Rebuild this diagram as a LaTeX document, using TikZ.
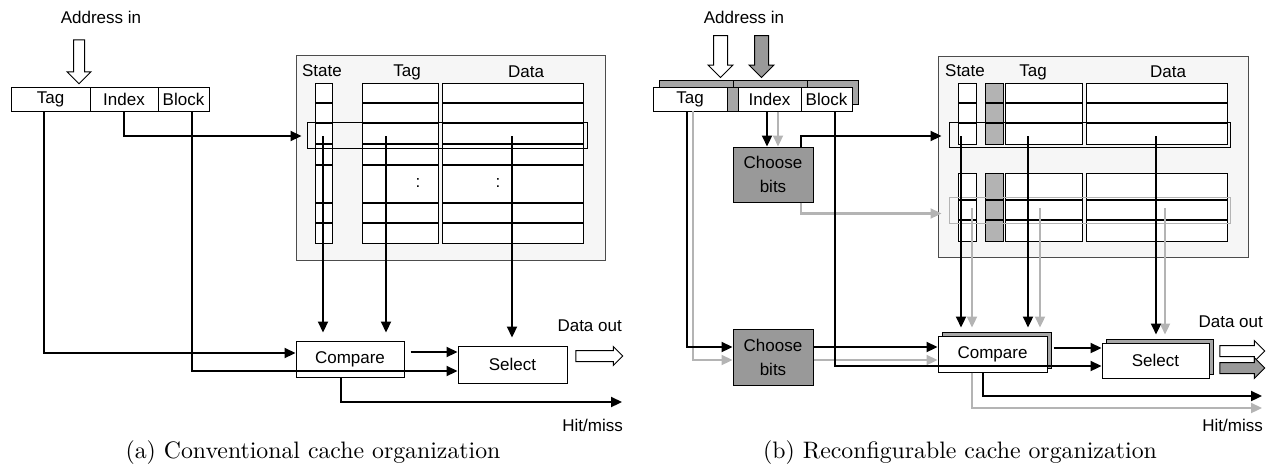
\documentclass[tikz,border=0pt]{standalone}
\usepackage{fontspec}
\newfontfamily\arialfont{Liberation Sans}
\newfontfamily\capfont{lmroman10-regular}[Extension=.otf]
\usetikzlibrary{arrows.meta,shapes.arrows}

\definecolor{arrayfill}{HTML}{F6F6F6}
\definecolor{choosefill}{HTML}{999999}
\definecolor{waygray}{HTML}{B4B4B4}
\definecolor{shadowgray}{HTML}{A6A6A6}

\begin{document}
\begin{tikzpicture}
      [x=1pt,y=-1pt,>={Triangle[length=11pt,width=10pt]},
       lbl/.style={font=\arialfont\fontsize{17}{19}\selectfont,inner sep=0pt},
       field/.style={rectangle,draw,line width=1pt,fill=white,inner sep=0pt,minimum height=24pt,lbl},
       unit/.style={rectangle,draw,line width=1pt,fill=white,inner sep=0pt,lbl},
       chooser/.style={rectangle,draw,line width=1pt,fill=choosefill,inner sep=0pt,
         minimum width=80pt,align=center,font=\arialfont\fontsize{17}{24}\selectfont},
       arraybox/.style={rectangle,draw=black!70,line width=1pt,fill=arrayfill,inner sep=0pt},
       column/.style={rectangle,draw,line width=1pt,fill=white,inner sep=0pt},
       rowsel/.style={rectangle,draw,line width=1pt,inner sep=0pt},
       fatarrow/.style={single arrow,draw,line width=1pt,inner xsep=0pt},
       caption/.style={font=\capfont\fontsize{23.8}{28}\selectfont},
       sig/.style={->,line width=2.2pt},
       waysig/.style={->,line width=2.2pt,draw=waygray},
       gap/.style={shorten >=8pt}]
      \useasboundingbox (0,0) rectangle (1276,466);

      % (a) conventional
      \node[lbl] (addrA) at (101,17) {Address in};
      \node[fatarrow,fill=white,rotate=-90,minimum height=44pt,inner ysep=5pt,
        single arrow head extend=6.5pt] (inA) at (79,59) {};
      \node[field,minimum width=79pt] (tagA) at (50.5,99) {Tag};
      \node[field,minimum width=68pt] (indexA) at (124,99) {Index};
      \node[field,minimum width=51pt] (blockA) at (183.5,99) {Block};

      \node[arraybox,minimum width=309pt,minimum height=205pt] (cacheA) at (450.5,157.5) {};
      \node[lbl] (stateLblA) at (322,71) {State};
      \node[lbl] (tagLblA) at (407,72) {Tag};
      \node[lbl] (dataLblA) at (526,72) {Data};
      \node[column,minimum width=17pt,minimum height=160pt] (stateA) at (323.5,163) {};
      \node[column,minimum width=76pt,minimum height=160pt] (tagsA) at (400,163) {};
      \node[column,minimum width=141pt,minimum height=160pt] (dataA) at (512.5,163) {};
      \foreach \y in {103,123,144,165,203,223}
        \draw[line width=1.5pt] (315,\y) -- (332,\y) (362,\y) -- (438,\y) (442,\y) -- (583,\y);
      \node[lbl] (dotsTagA) at (418,183) {:};
      \node[lbl] (dotsDataA) at (498,183) {:};
      \node[rowsel,minimum width=280pt,minimum height=26pt] (hitrowA) at (447,135) {};

      \node[unit,minimum width=108pt,minimum height=36pt] (compareA) at (350,359) {Compare};
      \node[unit,minimum width=109pt,minimum height=37pt] (selectA) at (512.5,364.5) {Select};

      \coordinate (stTapA) at (323,136);
      \coordinate (tgTapA) at (386,136);
      \coordinate (dtTapA) at (512,136);
      \coordinate (hitEndA) at (622,402);
      \draw[sig] ([xshift=-6.5pt]tagA.south) |- ([yshift=6pt]compareA.west);
      \draw[sig] ([xshift=8.5pt]blockA.south) |- ([yshift=-6.5pt]selectA.west);
      \draw[sig] (indexA.south) |- ([xshift=6pt]cacheA.west |- stTapA);
      \draw[sig,gap] (stTapA) -- (stTapA |- compareA.north);
      \draw[sig,gap] (tgTapA) -- (tgTapA |- compareA.north);
      \draw[sig,gap] (dtTapA) -- (dtTapA |- selectA.north);
      \draw[sig] ([xshift=6pt,yshift=7pt]compareA.east) -- ([yshift=7pt]compareA.east -| selectA.west);
      \draw[sig] ([xshift=-9pt]compareA.south) |- (hitEndA);
      \node[lbl,anchor=east] (dataOutA) at (622,326) {Data out};
      \node[lbl,anchor=east] (hitA) at (623,425) {Hit/miss};
      \node[fatarrow,fill=white,minimum height=47pt,inner ysep=5pt,
        single arrow head extend=4pt] (outA) at (596.5,356) {};
      \node[caption] (capA) at (313,453) {(a) Conventional cache organization};

      % (b) reconfigurable
      \node[lbl] (addrB) at (744,17) {Address in};
      \node[fatarrow,fill=white,rotate=-90,minimum height=42pt,inner ysep=6.5pt,
        single arrow head extend=5.5pt] (inB) at (720.5,53) {};
      \node[fatarrow,fill=choosefill,rotate=-90,minimum height=42pt,inner ysep=6.5pt,
        single arrow head extend=5.5pt] (inWayB) at (761.5,53) {};
      \node[field,fill=shadowgray,minimum width=74pt] (tagShB) at (696,92) {};
      \node[field,fill=shadowgray,minimum width=74pt] (indexShB) at (770,92) {};
      \node[field,fill=shadowgray,minimum width=51pt] (blockShB) at (832.5,92) {};
      \node[field,minimum width=74pt] (tagB) at (690,99) {Tag};
      \node[field,fill=shadowgray,minimum width=11pt] (bitB) at (732.5,99) {};
      \node[field,minimum width=63pt] (indexB) at (769.5,99) {Index};
      \node[field,minimum width=51pt] (blockB) at (826.5,99) {Block};

      \node[chooser,minimum height=55pt] (chooseIdxB) at (773,174.5) {Choose\\bits};
      \node[chooser,minimum height=56pt] (chooseTagB) at (773,357) {Choose\\bits};

      \node[arraybox,minimum width=310pt,minimum height=201pt] (cacheB) at (1093,156.5) {};
      \node[lbl] (stateLblB) at (965,71) {State};
      \node[lbl] (tagLblB) at (1033,72) {Tag};
      \node[lbl] (dataLblB) at (1168,72) {Data};
      \foreach \yc/\h in {113.5/61,207/68} {
        \node[column,minimum width=18pt,minimum height=\h pt] at (967,\yc) {};
        \node[column,fill=shadowgray!85,minimum width=18pt,minimum height=\h pt] at (994,\yc) {};
        \node[column,minimum width=77pt,minimum height=\h pt] at (1043.5,\yc) {};
        \node[column,minimum width=141pt,minimum height=\h pt] at (1156.5,\yc) {};
      }
      \foreach \y in {103,123,200,220}
        \draw[line width=1.5pt] (958,\y) -- (976,\y) (985,\y) -- (1003,\y)
          (1005,\y) -- (1082,\y) (1086,\y) -- (1227,\y);
      \node[rowsel,minimum width=281pt,minimum height=25pt] (hitrowB) at (1089.5,134.5) {};
      \node[rowsel,draw=waygray,minimum width=281pt,minimum height=26pt] (wayrowB) at (1089.5,210) {};

      \node[unit,fill=shadowgray,minimum width=109pt,minimum height=36pt] (compareShB) at (996.5,350) {};
      \node[unit,minimum width=109pt,minimum height=36pt] (compareB) at (992.5,354) {Compare};
      \node[unit,fill=shadowgray,minimum width=107pt,minimum height=35pt] (selectShB) at (1159.5,356.5) {};
      \node[unit,minimum width=107pt,minimum height=35pt] (selectB) at (1155.5,360.5) {Select};

      \coordinate (idxTapB) at ([xshift=-2.5pt]indexB.south);
      \coordinate (idxWayTapB) at ([xshift=8.5pt]indexB.south);
      \coordinate (tagTapB) at (687,111);
      \coordinate (tagWayTapB) at (693,111);
      \coordinate (setTapB) at ([xshift=28pt]chooseIdxB.north);
      \coordinate (setWayTapB) at ([xshift=28pt]chooseIdxB.south);
      \coordinate (stTapB) at (961,136);
      \coordinate (tgTapB) at (1028,136);
      \coordinate (dtTapB) at (1156,136);
      \coordinate (stWayTapB) at (972,208);
      \coordinate (tgWayTapB) at (1040,208);
      \coordinate (dtWayTapB) at (1165,208);
      \coordinate (hitEndB) at (1262,396);
      \coordinate (hitWayEndB) at (1262,408);

      \draw[waysig] (idxWayTapB) -- (idxWayTapB |- chooseIdxB.north);
      \draw[sig] (idxTapB) -- (idxTapB |- chooseIdxB.north);
      \draw[sig] (setTapB) |- ([xshift=4pt]cacheB.west |- stTapB);
      \draw[waysig] (setWayTapB) |- ([xshift=4pt,yshift=-3.5pt]cacheB.west |- wayrowB);
      \draw[waysig] (tagWayTapB) |- ([yshift=-3pt]chooseTagB.west);
      \draw[sig] (tagTapB) |- ([yshift=10pt]chooseTagB.west);
      \draw[waysig] ([yshift=-3pt]chooseTagB.east) -- ([yshift=-3pt]chooseTagB.east -| compareB.west);
      \draw[sig] ([yshift=10pt]chooseTagB.east) -- ([yshift=10pt]chooseTagB.east -| compareB.west);
      \draw[sig] ([xshift=8.5pt]blockB.south) |- ([yshift=-5.5pt]selectB.west);
      \draw[waysig,gap] (stWayTapB) -- (stWayTapB |- compareB.north);
      \draw[waysig,gap] (tgWayTapB) -- (tgWayTapB |- compareB.north);
      \draw[waysig,gap] (dtWayTapB) -- (dtWayTapB |- selectB.north);
      \draw[sig,gap] (stTapB) -- (stTapB |- compareB.north);
      \draw[sig,gap] (tgTapB) -- (tgTapB |- compareB.north);
      \draw[sig,gap] (dtTapB) -- (dtTapB |- selectB.north);
      \draw[sig] ([xshift=6pt,yshift=6pt]compareB.east) -- ([yshift=6pt]compareB.east -| selectB.west);
      \draw[waysig] ([xshift=-20.5pt]compareB.south) |- (hitWayEndB);
      \draw[sig] ([xshift=-9.5pt]compareB.south) |- (hitEndB);
      \node[lbl,anchor=east] (dataOutB) at (1263,322) {Data out};
      \node[lbl,anchor=east] (hitB) at (1263,425) {Hit/miss};
      \node[fatarrow,fill=white,minimum height=45pt,inner ysep=5pt,
        single arrow head extend=5pt] (outB) at (1239.5,351) {};
      \node[fatarrow,fill=choosefill,minimum height=45pt,inner ysep=5pt,
        single arrow head extend=5pt] (outWayB) at (1239.5,368) {};
      \node[caption] (capB) at (960,453) {(b) Reconfigurable cache organization};
    \end{tikzpicture}
\end{document}
